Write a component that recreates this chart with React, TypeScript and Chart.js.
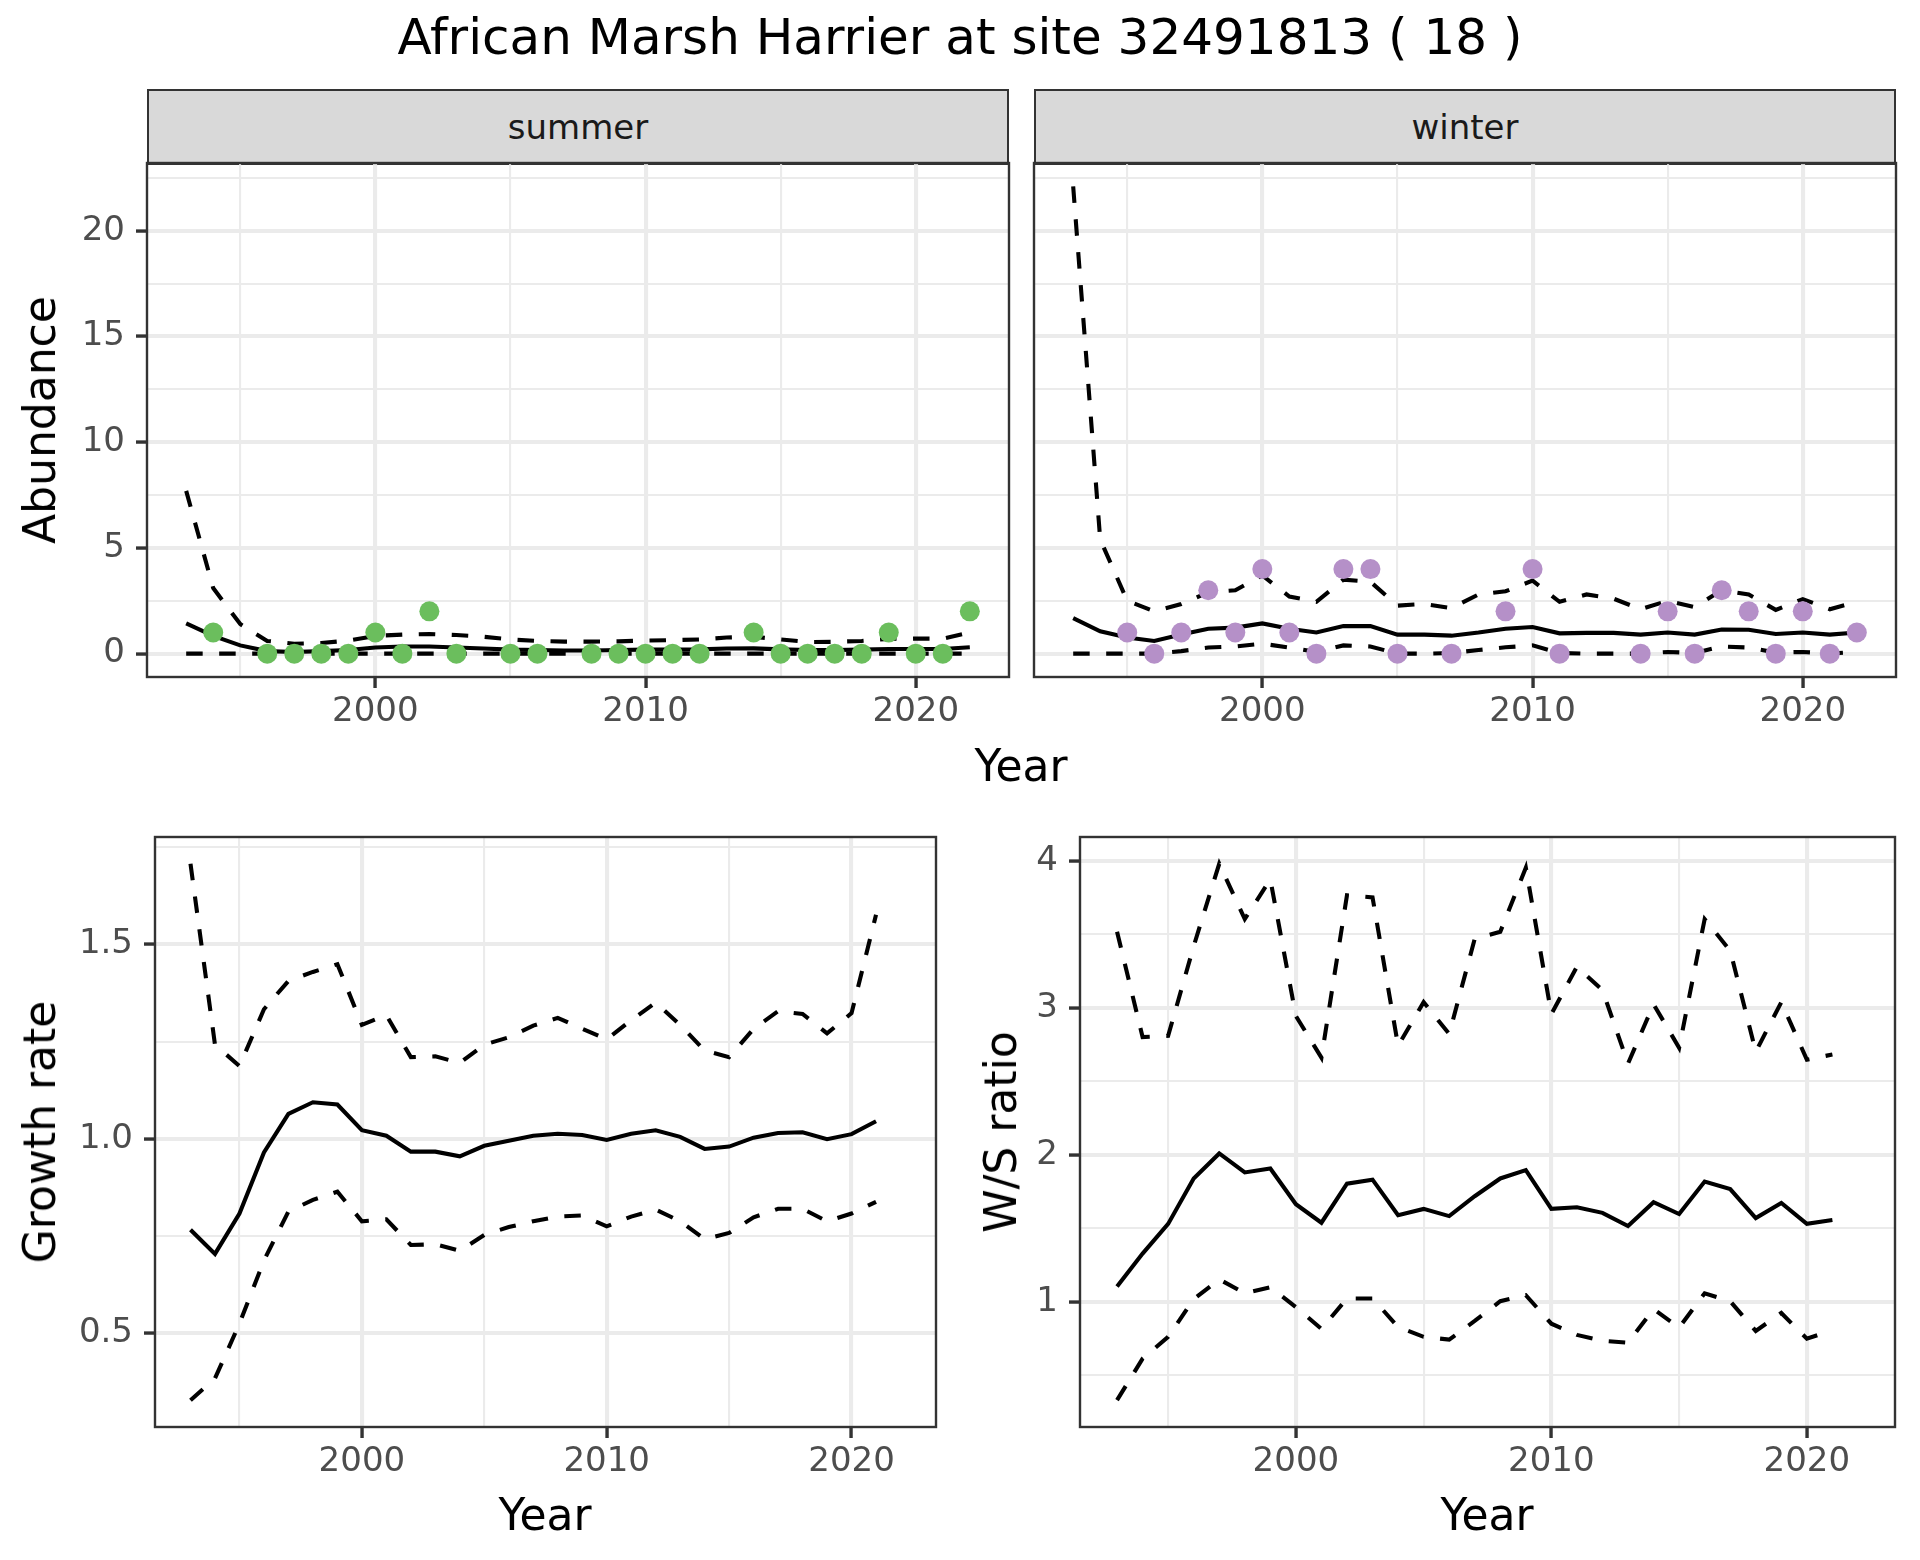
import React, { useEffect, useRef } from "react";
import { Chart, registerables } from "chart.js";
Chart.register(...registerables);

// ---------------- DATA ----------------
const years = [1993, 1994, 1995, 1996, 1997, 1998, 1999, 2000, 2001, 2002, 2003, 2004, 2005, 2006, 2007, 2008, 2009, 2010, 2011, 2012, 2013, 2014, 2015, 2016, 2017, 2018, 2019, 2020, 2021, 2022];

const summerUpper = [7.7, 3.1, 1.4, 0.6, 0.47, 0.5, 0.62, 0.84, 0.9, 0.93, 0.88, 0.8, 0.67, 0.6, 0.57, 0.57, 0.58, 0.62, 0.64, 0.67, 0.76, 0.8, 0.67, 0.55, 0.56, 0.6, 0.7, 0.71, 0.71, 1.0];
const summerMean = [1.43, 0.84, 0.39, 0.12, 0.08, 0.12, 0.17, 0.29, 0.34, 0.34, 0.29, 0.24, 0.19, 0.17, 0.15, 0.15, 0.17, 0.19, 0.19, 0.2, 0.24, 0.25, 0.2, 0.17, 0.17, 0.19, 0.22, 0.22, 0.22, 0.3];
const summerLower = [0, 0, 0, 0, 0, 0, 0, 0, 0, 0, 0, 0, 0, 0, 0, 0, 0, 0, 0, 0, 0, 0, 0, 0, 0, 0, 0, 0, 0, 0];

const winterUpper = [22.1, 5.4, 2.5, 2.0, 2.35, 2.9, 3.0, 3.7, 2.7, 2.45, 3.5, 3.4, 2.27, 2.35, 2.15, 2.8, 2.95, 3.45, 2.45, 2.8, 2.6, 2.1, 2.5, 2.2, 3.0, 2.8, 2.07, 2.58, 2.1, 2.45];
const winterMean = [1.68, 1.06, 0.76, 0.6, 0.9, 1.18, 1.23, 1.43, 1.18, 1.0, 1.31, 1.3, 0.9, 0.9, 0.85, 1.0, 1.18, 1.26, 0.96, 0.98, 0.98, 0.9, 1.0, 0.9, 1.14, 1.13, 0.93, 1.0, 0.9, 1.0];
const winterLower = [0, 0, 0, 0, 0.12, 0.29, 0.34, 0.47, 0.29, 0.08, 0.39, 0.34, 0, 0, 0.03, 0.17, 0.3, 0.39, 0.03, 0, 0, 0, 0.08, 0.03, 0.34, 0.29, 0.05, 0.08, 0, 0.08];

const summerObsYears = [1994, 1996, 1997, 1998, 1999, 2000, 2001, 2002, 2003, 2005, 2006, 2008, 2009, 2010, 2011, 2012, 2014, 2015, 2016, 2017, 2018, 2019, 2020, 2021, 2022];
const summerObs = [1, 0, 0, 0, 0, 1, 0, 2, 0, 0, 0, 0, 0, 0, 0, 0, 1, 0, 0, 0, 0, 1, 0, 0, 2];
const winterObsYears = [1995, 1996, 1997, 1998, 1999, 2000, 2001, 2002, 2003, 2004, 2005, 2007, 2009, 2010, 2011, 2014, 2015, 2016, 2017, 2018, 2019, 2020, 2021, 2022];
const winterObs = [1, 0, 1, 3, 1, 4, 1, 0, 4, 4, 0, 0, 2, 4, 0, 0, 2, 0, 3, 2, 0, 2, 0, 1];

const rateYears = [1993, 1994, 1995, 1996, 1997, 1998, 1999, 2000, 2001, 2002, 2003, 2004, 2005, 2006, 2007, 2008, 2009, 2010, 2011, 2012, 2013, 2014, 2015, 2016, 2017, 2018, 2019, 2020, 2021];

const growthMean = [0.766, 0.704, 0.808, 0.965, 1.064, 1.094, 1.088, 1.022, 1.008, 0.967, 0.967, 0.955, 0.982, 0.995, 1.008, 1.013, 1.010, 0.997, 1.013, 1.022, 1.005, 0.974, 0.980, 1.003, 1.015, 1.017, 0.999, 1.012, 1.045];
const growthUpper = [1.707, 1.242, 1.187, 1.333, 1.406, 1.429, 1.449, 1.293, 1.318, 1.210, 1.212, 1.195, 1.242, 1.261, 1.291, 1.311, 1.283, 1.256, 1.305, 1.350, 1.293, 1.227, 1.210, 1.283, 1.328, 1.321, 1.271, 1.323, 1.576];
const growthLower = [0.328, 0.384, 0.525, 0.687, 0.813, 0.843, 0.864, 0.788, 0.793, 0.727, 0.729, 0.712, 0.753, 0.773, 0.788, 0.800, 0.803, 0.775, 0.800, 0.818, 0.788, 0.742, 0.758, 0.798, 0.820, 0.820, 0.788, 0.808, 0.838];

const wsMean = [1.105, 1.329, 1.531, 1.840, 2.010, 1.881, 1.908, 1.665, 1.539, 1.805, 1.832, 1.590, 1.633, 1.584, 1.719, 1.840, 1.897, 1.633, 1.644, 1.606, 1.517, 1.679, 1.598, 1.819, 1.768, 1.571, 1.673, 1.531, 1.557];
const wsUpper = [3.518, 2.802, 2.810, 3.42, 3.98, 3.604, 3.874, 2.945, 2.662, 3.766, 3.752, 2.743, 3.039, 2.823, 3.470, 3.518, 3.954, 2.958, 3.281, 3.120, 2.621, 3.025, 2.729, 3.604, 3.389, 2.702, 3.039, 2.648, 2.683];
const wsLower = [0.332, 0.615, 0.763, 1.019, 1.154, 1.059, 1.100, 0.965, 0.817, 1.024, 1.024, 0.830, 0.763, 0.744, 0.871, 1.005, 1.046, 0.852, 0.776, 0.736, 0.723, 0.952, 0.825, 1.059, 1.005, 0.803, 0.925, 0.750, 0.809];

// tick labels
const xMajorTicks = [2000, 2010, 2020];
const xMinorTicks = [1995, 2005, 2015];
const abundanceMajorTicks = [0, 5, 10, 15, 20];
const abundanceMinorTicks = [2.5, 7.5, 12.5, 17.5, 22.5];
const growthMajorTicks = [0.5, 1.0, 1.5];
const growthMinorTicks = [0.75, 1.25, 1.75];
const wsMajorTicks = [1, 2, 3, 4];
const wsMinorTicks = [0.5, 1.5, 2.5, 3.5];

const X_MIN = 1991.55;
const X_MAX = 2023.45;

// ---------------- STYLE ----------------
const FONT = "'DejaVu Sans', 'Noto Sans', sans-serif";
const TICK_TEXT = "#4D4D4D";
const DARK = "#333333";
const GRID = "#EBEBEB";
const GREEN = "#6BBE5D";
const PURPLE = "#B590C8";
const LINE_W = 4.1;
const DASH = [16.5, 16.5];
const PAD_TOP = 40;
const PAD_RIGHT = 12;

function expandRange(values: number[]) {
  const mn = Math.min(...values);
  const mx = Math.max(...values);
  const pad = (mx - mn) * 0.05;
  return [mn - pad, mx + pad];
}

function pts(xs: number[], ys: number[]) {
  return xs.map((x, i) => ({ x, y: ys[i] }));
}

function lineDs(xs: number[], ys: number[], dashed: boolean) {
  return {
    type: "line",
    data: pts(xs, ys),
    borderColor: "#000000",
    borderWidth: LINE_W,
    borderDash: dashed ? DASH : [],
    borderCapStyle: "butt",
    pointRadius: 0,
    pointHoverRadius: 0,
    tension: 0,
    fill: false,
    order: 1,
  };
}

function pointDs(xs: number[], ys: number[], color: string) {
  return {
    type: "line",
    data: pts(xs, ys),
    showLine: false,
    pointRadius: 10,
    pointHoverRadius: 10,
    pointBackgroundColor: color,
    pointBorderWidth: 0,
    borderColor: color,
    order: 0,
  };
}

const isIn = (v: number, arr: number[]) => arr.some((m) => Math.abs(m - v) < 1e-9);

const borderPlugin = {
  id: "panelBorder",
  afterDatasetsDraw(chart: any) {
    const { ctx, chartArea: a } = chart;
    ctx.save();
    ctx.strokeStyle = DARK;
    ctx.lineWidth = 2.4;
    ctx.strokeRect(a.left, a.top, a.right - a.left, a.bottom - a.top);
    ctx.restore();
  },
};

type Rect = { left: number; top: number; right: number; bottom: number };

interface PanelProps {
  plot: Rect;
  ySpace: number;
  xSpace: number;
  datasets: any[];
  yRange: number[];
  yMajor: number[];
  yMinor: number[];
  yFmt: (v: number) => string;
  showY: boolean;
}

function Panel(props: PanelProps) {
  const ref = useRef<HTMLCanvasElement | null>(null);
  const { plot, ySpace, xSpace } = props;
  const cLeft = plot.left - ySpace;
  const cTop = plot.top - PAD_TOP;
  const cW = ySpace + (plot.right - plot.left) + PAD_RIGHT;
  const cH = PAD_TOP + (plot.bottom - plot.top) + xSpace;

  useEffect(() => {
    if (!ref.current) return;
    const xAll = [...xMajorTicks, ...xMinorTicks].sort((a, b) => a - b);
    const yAll = [...props.yMajor, ...props.yMinor].sort((a, b) => a - b);
    const tickFont = { family: FONT, size: 34, lineHeight: 1 };
    const chart = new Chart(ref.current, {
      type: "line",
      data: { datasets: props.datasets as any },
      plugins: [borderPlugin],
      options: {
        animation: false,
        responsive: false,
        maintainAspectRatio: false,
        devicePixelRatio: 1,
        events: [],
        layout: { padding: { left: 0, top: PAD_TOP, right: PAD_RIGHT, bottom: 0 } },
        plugins: { legend: { display: false }, tooltip: { enabled: false }, title: { display: false } },
        scales: {
          x: {
            type: "linear",
            min: X_MIN,
            max: X_MAX,
            afterBuildTicks: (scale: any) => {
              scale.ticks = xAll.map((v) => ({ value: v }));
            },
            afterFit: (scale: any) => {
              scale.height = xSpace;
            },
            ticks: {
              autoSkip: false,
              maxRotation: 0,
              padding: 7,
              color: TICK_TEXT,
              font: tickFont,
              callback: (v: any) => (isIn(Number(v), xMajorTicks) ? String(v) : ""),
            },
            grid: {
              drawOnChartArea: true,
              drawTicks: true,
              tickLength: 11,
              color: (ctx: any) => GRID,
              lineWidth: (ctx: any) => (ctx.tick && isIn(ctx.tick.value, xMajorTicks) ? 4.1 : 2.1),
              tickColor: (ctx: any) => (ctx.tick && isIn(ctx.tick.value, xMajorTicks) ? DARK : "rgba(0,0,0,0)"),
              tickWidth: 3.4,
            },
            border: { display: false },
          },
          y: {
            type: "linear",
            min: props.yRange[0],
            max: props.yRange[1],
            afterBuildTicks: (scale: any) => {
              scale.ticks = yAll.map((v) => ({ value: v }));
            },
            afterFit: (scale: any) => {
              scale.width = ySpace;
            },
            ticks: {
              display: props.showY,
              autoSkip: false,
              padding: 11,
              color: TICK_TEXT,
              font: tickFont,
              callback: (v: any) => (isIn(Number(v), props.yMajor) ? props.yFmt(Number(v)) : ""),
            },
            grid: {
              drawOnChartArea: true,
              drawTicks: props.showY,
              tickLength: 11,
              color: (ctx: any) => GRID,
              lineWidth: (ctx: any) => (ctx.tick && isIn(ctx.tick.value, props.yMajor) ? 4.1 : 2.1),
              tickColor: (ctx: any) => (ctx.tick && isIn(ctx.tick.value, props.yMajor) ? DARK : "rgba(0,0,0,0)"),
              tickWidth: 3.4,
            },
            border: { display: false },
          },
        },
      } as any,
    });
    return () => chart.destroy();
  }, []);

  return (
    <canvas
      ref={ref}
      width={cW}
      height={cH}
      style={{ position: "absolute", left: cLeft, top: cTop, width: cW, height: cH }}
    />
  );
}

function Text(props: { x: number; y: number; size: number; color?: string; rotate?: boolean; children: any }) {
  return (
    <div
      style={{
        position: "absolute",
        left: props.x,
        top: props.y,
        transform: `translate(-50%, -50%)${props.rotate ? " rotate(-90deg)" : ""}`,
        fontFamily: FONT,
        fontSize: props.size,
        lineHeight: 1,
        color: props.color || "#000000",
        whiteSpace: "nowrap",
      }}
    >
      {props.children}
    </div>
  );
}

function Strip(props: { left: number; right: number; top: number; bottom: number; label: string }) {
  return (
    <div
      style={{
        position: "absolute",
        left: props.left,
        top: props.top,
        width: props.right - props.left,
        height: props.bottom - props.top,
        boxSizing: "border-box",
        background: "#D9D9D9",
        border: `2.4px solid ${DARK}`,
        display: "flex",
        alignItems: "center",
        justifyContent: "center",
        fontFamily: FONT,
        fontSize: 34,
        lineHeight: 1,
        color: "#1A1A1A",
      }}
    >
      {props.label}
    </div>
  );
}

export default function App() {
  const abundanceRange = expandRange([
    ...summerUpper, ...summerMean, ...summerLower, ...summerObs,
    ...winterUpper, ...winterMean, ...winterLower, ...winterObs,
  ]);
  const growthRange = expandRange([...growthUpper, ...growthMean, ...growthLower]);
  const wsRange = expandRange([...wsUpper, ...wsMean, ...wsLower]);

  const summerPlot = { left: 147, top: 163, right: 1009, bottom: 677 };
  const winterPlot = { left: 1034, top: 163, right: 1896, bottom: 677 };
  const growthPlot = { left: 155, top: 837, right: 936, bottom: 1427 };
  const wsPlot = { left: 1080, top: 837, right: 1895, bottom: 1427 };

  return (
    <div style={{ position: "absolute", left: 0, top: 0, width: 1920, height: 1560, background: "#FFFFFF", overflow: "hidden" }}>
      <Text x={960} y={37} size={50}>African Marsh Harrier at site 32491813 ( 18 )</Text>

      <Strip left={147} right={1009} top={89} bottom={165} label="summer" />
      <Strip left={1034} right={1896} top={89} bottom={165} label="winter" />

      <Panel
        plot={summerPlot}
        ySpace={147}
        xSpace={70}
        datasets={[
          pointDs(summerObsYears, summerObs, GREEN),
          lineDs(years, summerUpper, true),
          lineDs(years, summerMean, false),
          lineDs(years, summerLower, true),
        ]}
        yRange={abundanceRange}
        yMajor={abundanceMajorTicks}
        yMinor={abundanceMinorTicks}
        yFmt={(v) => String(v)}
        showY={true}
      />
      <Panel
        plot={winterPlot}
        ySpace={20}
        xSpace={70}
        datasets={[
          pointDs(winterObsYears, winterObs, PURPLE),
          lineDs(years, winterUpper, true),
          lineDs(years, winterMean, false),
          lineDs(years, winterLower, true),
        ]}
        yRange={abundanceRange}
        yMajor={abundanceMajorTicks}
        yMinor={abundanceMinorTicks}
        yFmt={(v) => String(v)}
        showY={false}
      />
      <Panel
        plot={growthPlot}
        ySpace={155}
        xSpace={70}
        datasets={[
          lineDs(rateYears, growthUpper, true),
          lineDs(rateYears, growthMean, false),
          lineDs(rateYears, growthLower, true),
        ]}
        yRange={growthRange}
        yMajor={growthMajorTicks}
        yMinor={growthMinorTicks}
        yFmt={(v) => v.toFixed(1)}
        showY={true}
      />
      <Panel
        plot={wsPlot}
        ySpace={80}
        xSpace={70}
        datasets={[
          lineDs(rateYears, wsUpper, true),
          lineDs(rateYears, wsMean, false),
          lineDs(rateYears, wsLower, true),
        ]}
        yRange={wsRange}
        yMajor={wsMajorTicks}
        yMinor={wsMinorTicks}
        yFmt={(v) => String(v)}
        showY={true}
      />

      <Text x={40} y={420} size={44} rotate>Abundance</Text>
      <Text x={1021} y={766} size={44}>Year</Text>
      <Text x={40} y={1132} size={44} rotate>Growth rate</Text>
      <Text x={545} y={1515} size={44}>Year</Text>
      <Text x={1001} y={1132} size={44} rotate>W/S ratio</Text>
      <Text x={1487} y={1515} size={44}>Year</Text>
    </div>
  );
}
